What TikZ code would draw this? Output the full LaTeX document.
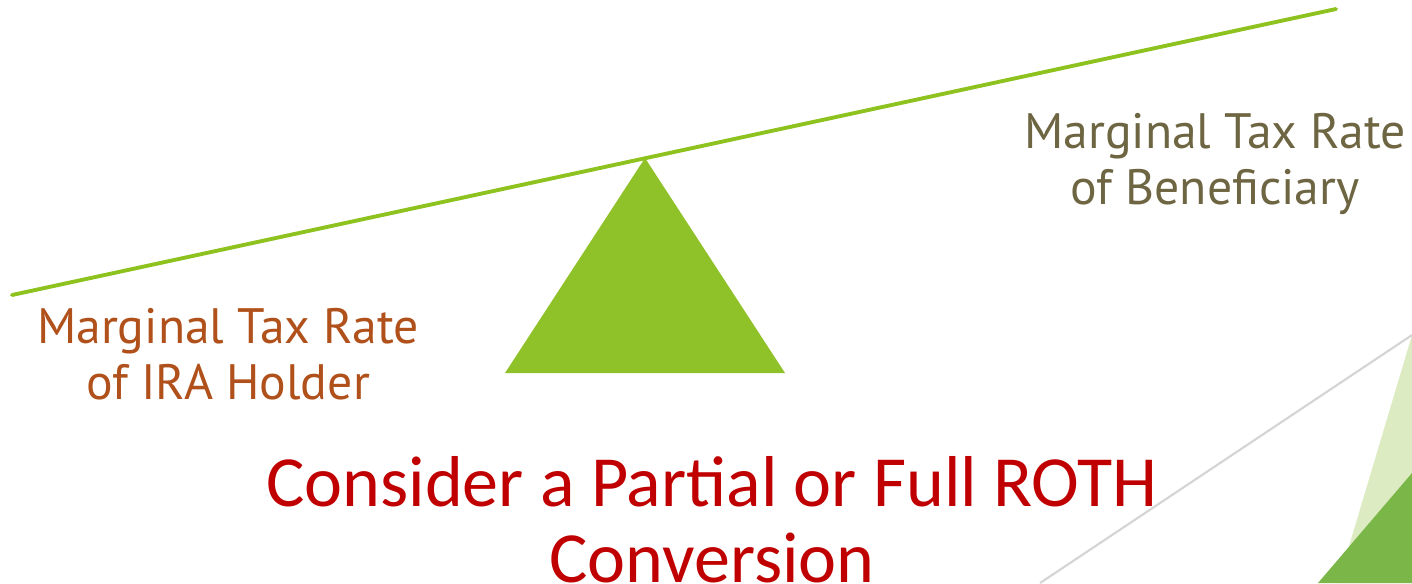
\documentclass[tikz,border=0pt]{standalone}
\usepackage{fontspec}
\setmainfont{PT Sans}
\newfontfamily\headfont{Carlito}
\usetikzlibrary{positioning}

\definecolor{beamgreen}{HTML}{8DC21F}
\definecolor{pivotgreen}{HTML}{8FC129}
\definecolor{holderbrown}{HTML}{B0501A}
\definecolor{benefolive}{HTML}{6E6642}
\definecolor{convred}{HTML}{C00000}
\definecolor{paleleaf}{HTML}{DDEBC3}
\definecolor{darkleaf}{HTML}{7AB648}
\definecolor{rulegray}{HTML}{D4D4D4}

\begin{document}
\begin{tikzpicture}[
    x=0.02cm, y=-0.02cm,
    ratelabel/.style={align=center, font=\fontsize{28.3}{32}\selectfont},
    headline/.style={align=center, text=convred, font=\headfont\fontsize{41}{43.5}\selectfont}
]
    \useasboundingbox (0,0) rectangle (1412,583);

    % corner decoration
    \coordinate (cornertop) at (1412,335);
    \coordinate (rulefoot) at (1040,583);
    \fill[paleleaf] (cornertop) -- (1338,583) -- (1412,583) -- cycle;
    \fill[darkleaf] (1412,473) -- (1318,583) -- (1412,583) -- cycle;
    \draw[rulegray, line width=1.2pt] (rulefoot) -- (cornertop);

    % seesaw
    \coordinate (beamleft) at (12,295);
    \coordinate (beamright) at (1336,9);
    \coordinate (apex) at (645,158);
    \fill[pivotgreen] (apex) -- (785,373) -- (505,373) -- cycle;
    \draw[beamgreen, line width=2.2pt, line cap=round] (beamleft) -- (beamright);

    % labels
    \node[ratelabel, text=holderbrown] (holder) at (228,354) {Marginal Tax Rate\\of IRA Holder};
    \node[ratelabel, text=benefolive] (benef) at (1215,164) {Marginal Tax Rate\\of Beneficiary};
    \node[headline] (roth) at (712,520) {Consider a Partial or Full ROTH\\Conversion};
\end{tikzpicture}
\end{document}
